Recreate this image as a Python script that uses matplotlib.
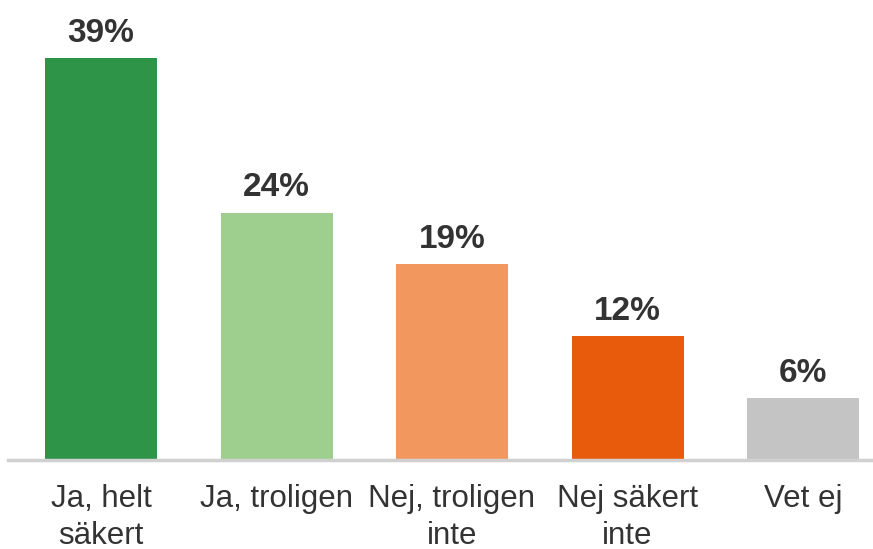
# Bar chart: share of answers per category.

import matplotlib
matplotlib.use("Agg")
from matplotlib import pyplot as plt

categories = ["Ja, helt\nsäkert", "Ja, troligen", "Nej, troligen\ninte", "Nej säkert\ninte", "Vet ej"]
values = [39, 24, 19, 12, 6]
colors = ["#2e9447", "#9fcf8f", "#f2975e", "#e85a0c", "#c4c4c4"]

W, H = 873, 549
fig = plt.figure(figsize=(W / 100, H / 100), dpi=100)
# axes spans full width; baseline at 460 px from top
ax = fig.add_axes([0, 89 / H, 1, 460 / H])

step = 175.5
x0 = 101
xs = list(range(len(values)))
ax.bar(xs, values, width=112 / step, color=colors)
ax.set_xlim(-x0 / step, (W - x0) / step)
ax.set_ylim(0, 460 / 10.3)

for x, v in zip(xs, values):
    ax.annotate(f"{v}%", (x, v), xytext=(0, 12), textcoords="offset points",
                ha="center", va="baseline", fontsize=24, fontweight="bold",
                family="Liberation Sans", color="#333333")

ax.axhline(0, xmin=8 / W, xmax=1, color="#d0d0d0", lw=2.5, clip_on=False)

ax.set_xticks(xs)
ax.set_xticklabels(categories, fontsize=22.5, family="Liberation Sans",
                   color="#333333", linespacing=1.28)
ax.tick_params(axis="x", length=0, pad=17.5)
ax.set_yticks([])
for s in ax.spines.values():
    s.set_visible(False)

fig.savefig("out.png", dpi=100)
